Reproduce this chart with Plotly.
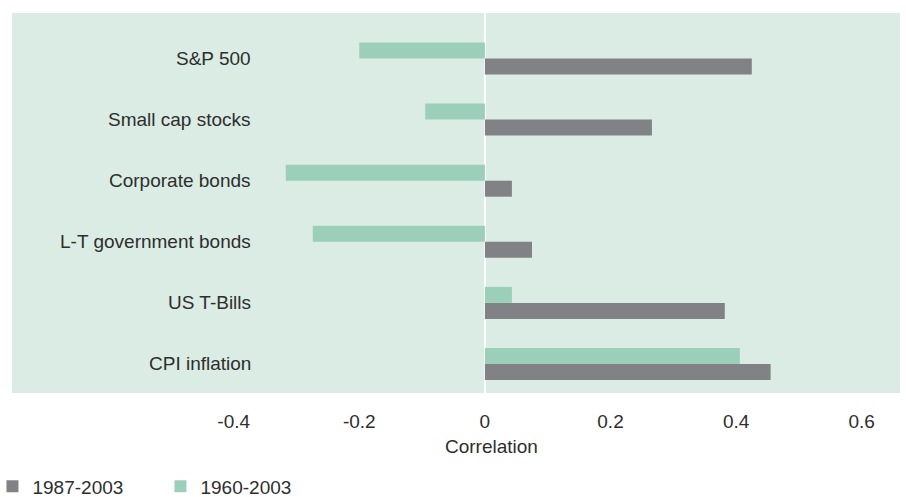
import plotly.graph_objects as go

# Asset classes, top to bottom
categories = ["S&P 500", "Small cap stocks", "Corporate bonds",
              "L-T government bonds", "US T-Bills", "CPI inflation"]

# Correlation with inflation for two sample periods
corr_1960_2003 = [-0.20, -0.095, -0.317, -0.274, 0.043, 0.406]
corr_1987_2003 = [0.425, 0.266, 0.043, 0.075, 0.382, 0.455]

tick_vals = [-0.4, -0.2, 0, 0.2, 0.4, 0.6]
tick_text = ["-0.4", "-0.2", "0", "0.2", "0.4", "0.6"]
axis_title = "Correlation"

BG = "#DAECE3"
GREEN = "#9BCFBA"
GRAY = "#818285"
TEXT = "#2e2e2e"
FONT = "Liberation Sans, Arial, sans-serif"

fig = go.Figure()
fig.add_trace(go.Bar(
    y=categories, x=corr_1960_2003, orientation="h",
    name="1960-2003", marker=dict(color=GREEN, line=dict(width=0)),
    legendrank=2,
))
fig.add_trace(go.Bar(
    y=categories, x=corr_1987_2003, orientation="h",
    name="1987-2003", marker=dict(color=GRAY, line=dict(width=0)),
    legendrank=1,
))

# Category labels sit inside the shaded area, right-aligned
for c in categories:
    fig.add_annotation(
        x=-0.369, y=c, xref="x", yref="y", text=c, showarrow=False,
        xanchor="right", yanchor="middle",
        font=dict(family=FONT, size=19, color=TEXT),
    )

# Axis title, centred under the zero-to-positive part of the scale
fig.add_annotation(
    x=0.5405, y=-0.142, xref="paper", yref="paper", text=axis_title,
    showarrow=False, xanchor="center", yanchor="middle",
    font=dict(family=FONT, size=19, color=TEXT),
)

fig.update_layout(
    width=906, height=497,
    margin=dict(l=12, r=6, t=13, b=104, autoexpand=False),
    paper_bgcolor="white", plot_bgcolor=BG,
    barmode="group", bargap=0.476, bargroupgap=0,
    font=dict(family=FONT, size=19, color=TEXT),
    showlegend=True,
    legend=dict(
        orientation="h", x=-0.022, xanchor="left",
        y=-0.196, yanchor="top",
        font=dict(family=FONT, size=19, color=TEXT),
        entrywidth=123, itemsizing="constant",
        bgcolor="rgba(0,0,0,0)",
    ),
    xaxis=dict(
        range=[-0.753, 0.661], tickvals=tick_vals, ticktext=tick_text,
        showgrid=False, zeroline=True, zerolinecolor="white", zerolinewidth=2,
        showline=False, ticks="outside", ticklen=11, tickcolor="rgba(0,0,0,0)",
        tickfont=dict(family=FONT, size=19, color=TEXT),
        automargin=False, fixedrange=True,
    ),
    yaxis=dict(
        range=[5.475, -0.745], showticklabels=False, showgrid=False,
        zeroline=False, showline=False, ticks="", automargin=False,
    ),
)

fig.write_html("out.html")
